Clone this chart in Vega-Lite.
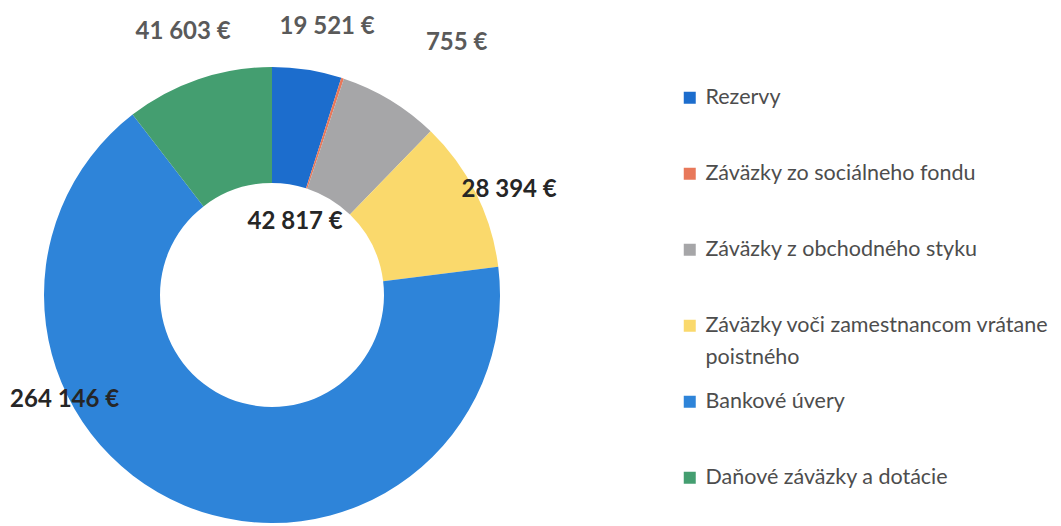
{
  "$schema": "https://vega.github.io/schema/vega-lite/v6.json",
  "width": 544,
  "height": 462,
  "autosize": {"type": "none"},
  "padding": {"left": 0, "top": 64, "right": 517, "bottom": 0},
  "background": "#ffffff",
  "config": {
    "view": {"stroke": null},
    "style": {"guide-label": {"lineHeight": 32}},
    "locale": {
      "number": {"decimal": ",", "thousands": " ", "grouping": [3], "currency": ["", " €"]}
    }
  },
  "data": {
    "values": [
      {"order": 1, "cat": "Rezervy", "value": 19521},
      {"order": 2, "cat": "Záväzky zo sociálneho fondu", "value": 755},
      {"order": 3, "cat": "Záväzky z obchodného styku", "value": 28394},
      {"order": 4, "cat": "Záväzky voči zamestnancom vrátane poistného", "value": 42817},
      {"order": 5, "cat": "Bankové úvery", "value": 264146},
      {"order": 6, "cat": "Daňové záväzky a dotácie", "value": 41603}
    ]
  },
  "encoding": {
    "theta": {"field": "value", "type": "quantitative", "stack": true},
    "order": {"field": "order", "type": "quantitative"}
  },
  "layer": [
    {
      "mark": {"type": "arc", "radius": 228, "radius2": 112, "stroke": null},
      "encoding": {
        "color": {
          "field": "cat",
          "type": "nominal",
          "scale": {
            "domain": ["Rezervy", "Záväzky zo sociálneho fondu", "Záväzky z obchodného styku", "Záväzky voči zamestnancom vrátane poistného", "Bankové úvery", "Daňové záväzky a dotácie"],
            "range": ["#1c6dcd", "#e8785a", "#a6a6a8", "#fad96c", "#2e84d9", "#449e70"]
          },
          "legend": {
            "title": null,
            "orient": "none",
            "legendX": 679,
            "legendY": 23,
            "padding": 0,
            "direction": "vertical",
            "columns": 1,
            "gridAlign": "all",
            "symbolType": "square",
            "symbolSize": 144,
            "symbolStrokeWidth": 0,
            "labelFont": "Lato",
            "labelFontSize": 21.5,
            "labelColor": "#4d4d4d",
            "labelOffset": 5,
            "labelLimit": 400,
            "rowPadding": 21,
            "labelExpr": "datum.label == 'Záväzky voči zamestnancom vrátane poistného' ? ['Záväzky voči zamestnancom vrátane', 'poistného'] : datum.label"
          }
        }
      }
    },
    {
      "mark": {
        "type": "text",
        "radius": 170,
        "font": "Lato",
        "fontSize": 24,
        "fontWeight": "bold",
        "dx": {"expr": "datum.cat == 'Rezervy' ? 29 : datum.cat == 'Záväzky zo sociálneho fondu' ? 132 : datum.cat == 'Záväzky z obchodného styku' ? 149 : datum.cat == 'Bankové úvery' ? -142 : datum.cat == 'Daňové záväzky a dotácie' ? -34 : -129"},
        "dy": {"expr": "datum.cat == 'Rezervy' ? -100 : datum.cat == 'Záväzky zo sociálneho fondu' ? -90 : datum.cat == 'Záväzky z obchodného styku' ? 40 : datum.cat == 'Bankové úvery' ? -52 : datum.cat == 'Daňové záväzky a dotácie' ? -102 : 3"}
      },
      "encoding": {
        "text": {"field": "value", "type": "quantitative", "format": "$,.0f"},
        "color": {
          "condition": {"test": "datum.order == 1 || datum.order == 2 || datum.order == 6", "value": "#5a5a5a"},
          "value": "#262626"
        }
      }
    }
  ]
}
